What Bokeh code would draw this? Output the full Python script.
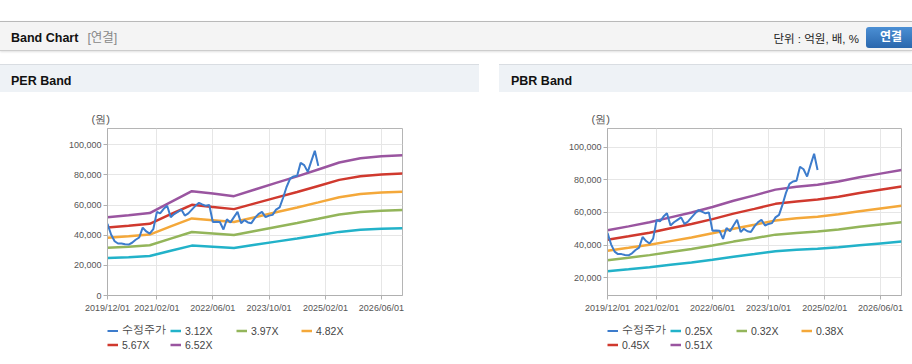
import pandas as pd
from bokeh.plotting import figure
from bokeh.models import (Range1d, FixedTicker, NumeralTickFormatter, DatetimeTickFormatter,
                          Legend, LegendItem, Div, Spacer)
from bokeh.layouts import column, row
from bokeh.embed import file_html
from bokeh.resources import INLINE

# ---------------- data ----------------
price_dates = pd.date_range("2019-12-01", periods=61, freq="MS")
price = [47500, 40500, 36000, 34500, 34500, 34000, 33800, 35000, 37000, 38500,
         45000, 42500, 41000, 44000, 55500, 54500, 57500, 59500, 52000, 54000,
         55500, 57000, 53000, 54500, 57000, 59500, 61500, 60500, 59500, 60000,
         48800, 49000, 48800, 43800, 50500, 48500, 52000, 55500, 48000, 50000,
         48500, 48000, 51500, 54000, 55500, 52000, 53000, 53500, 57000, 58500,
         65000, 72000, 77500, 79000, 79500, 88000, 86500, 82000, 89000, 96000,
         86000]

band_dates = pd.to_datetime([
    "2019-12-01", "2020-06-01", "2020-12-01", "2021-06-01", "2021-12-01",
    "2022-06-01", "2022-12-01", "2023-06-01", "2023-12-01", "2024-06-01",
    "2024-12-01", "2025-06-01", "2025-12-01", "2026-06-01", "2026-12-01"])

per_eps = [7960, 8160, 8390, 9509, 10613, 10368, 10107, 10782, 11457, 12117,
           12822, 13528, 13957, 14172, 14279]
per_multiples = [3.12, 3.97, 4.82, 5.67, 6.52]
per_labels = ["3.12X", "3.97X", "4.82X", "5.67X", "6.52X"]

pbr_bps = [96270, 100980, 105880, 111760, 117650, 124310, 131760, 138240, 145100,
           148430, 150980, 154900, 160000, 164310, 168630]
pbr_multiples = [0.25, 0.32, 0.38, 0.45, 0.51]
pbr_labels = ["0.25X", "0.32X", "0.38X", "0.45X", "0.51X"]

price_label = "수정주가"
x_tick_dates = ["2019-12-01", "2021-02-01", "2022-06-01", "2023-10-01", "2025-02-01", "2026-06-01"]
x_start, x_end = "2019-12-01", "2026-12-01"

per_y_ticks = [0, 20000, 40000, 60000, 80000, 100000]
pbr_y_ticks = [20000, 40000, 60000, 80000, 100000]

price_color = "#3d7ccc"
band_colors = ["#22b2c9", "#93b55a", "#f4a83a", "#d0392e", "#9a55a0"]

FONT = "Liberation Sans"
LEG_H = 44
legend_columns = [[0, 4], [1, 5], [2], [3]]
legend_col_x = [0, 63, 129, 194]


def draw_series(p, base, multiples):
    rends = []
    for m, col in zip(multiples, band_colors):
        vals = [b * m for b in base]
        rends.append(p.line(x=list(band_dates), y=vals, line_color=col, line_width=2.5))
    rp = p.line(x=list(price_dates), y=price, line_color=price_color, line_width=2)
    return [rp] + rends


def make_chart(width, bl, br, y0, y1, y_ticks, base, multiples):
    p = figure(width=width, height=225,
               x_range=Range1d(pd.Timestamp(x_start), pd.Timestamp(x_end)),
               y_range=Range1d(y0, y1), output_backend="svg", toolbar_location=None,
               x_axis_type="datetime",
               min_border_left=bl, min_border_right=br, min_border_top=35, min_border_bottom=23,
               background_fill_color="white", border_fill_color="white")
    p.outline_line_color = "#b5b5b5"
    tick_ms = [float(pd.Timestamp(d).value // 10**6) for d in x_tick_dates]
    p.xaxis.ticker = FixedTicker(ticks=tick_ms)
    fmt = "%Y/%m/%d"
    p.xaxis.formatter = DatetimeTickFormatter(
        microseconds=fmt, milliseconds=fmt, seconds=fmt, minsec=fmt, minutes=fmt,
        hourmin=fmt, hours=fmt, days=fmt, months=fmt, years=fmt)
    p.yaxis.ticker = FixedTicker(ticks=y_ticks)
    p.yaxis.formatter = NumeralTickFormatter(format="0,0")
    for ax in (p.xaxis[0], p.yaxis[0]):
        ax.axis_line_color = "#b0b0b0"
        ax.major_tick_line_color = "#b0b0b0"
        ax.minor_tick_line_color = None
        ax.major_tick_out = 4
        ax.major_tick_in = 0
        ax.major_label_text_font = FONT
        ax.major_label_text_font_size = "9px"
        ax.major_label_text_color = "#555555"
    p.yaxis.major_label_standoff = 2
    p.xaxis.major_label_standoff = 3
    p.xgrid.grid_line_color = "#e6e6e6"
    p.ygrid.grid_line_color = "#e6e6e6"

    p.title.text = "(원)"
    p.title.text_font = FONT
    p.title.text_font_size = "11px"
    p.title.text_font_style = "normal"
    p.title.text_color = "#555555"
    p.title.align = "left"
    p.title.offset = -16
    p.title.standoff = 7

    draw_series(p, base, multiples)
    return p


def make_legend_fig(width, bl, br, base, multiples, labels):
    # legend strip under the chart; its view range keeps the series out of sight
    lf = figure(width=width, height=LEG_H,
                x_range=Range1d(pd.Timestamp(x_start), pd.Timestamp(x_end)),
                y_range=Range1d(0, 1), x_axis_type="datetime",
                output_backend="svg", toolbar_location=None, title=None,
                x_axis_location=None, y_axis_location=None,
                min_border_left=bl, min_border_right=br, min_border_top=0, min_border_bottom=0,
                background_fill_color="white", border_fill_color="white")
    lf.outline_line_color = None
    lf.xgrid.visible = False
    lf.ygrid.visible = False
    rends = draw_series(lf, base, multiples)
    names = [price_label] + list(labels)
    for idxs, x in zip(legend_columns, legend_col_x):
        n = len(idxs)
        h = n * 13 + (n - 1) * 1
        vy = LEG_H - 6 - h
        items = [LegendItem(label=names[i], renderers=[rends[i]]) for i in idxs]
        lf.add_layout(Legend(items=items, orientation="vertical", location=(x, vy),
                             label_text_font=FONT, label_text_font_size="10.5px",
                             label_text_color="#444444",
                             glyph_width=11, glyph_height=13, label_height=13, label_standoff=4,
                             spacing=1, padding=0, margin=0,
                             border_line_alpha=0, background_fill_alpha=0))
    return lf


per = make_chart(479, 107, 77, 0, 110800, per_y_ticks, per_eps, per_multiples)
pbr = make_chart(413, 108, 11, 9150, 111450, pbr_y_ticks, pbr_bps, pbr_multiples)
per_leg = make_legend_fig(479, 107, 77, per_eps, per_multiples, per_labels)
pbr_leg = make_legend_fig(413, 108, 11, pbr_bps, pbr_multiples, pbr_labels)

ff = "font-family:'Liberation Sans','Noto Sans CJK KR',sans-serif;"
header_html = f'''
<div style="position:relative;width:912px;height:64px;{ff}">
 <div style="position:absolute;left:0;top:21px;width:912px;height:30px;background:#f4f4f4;border-top:1px solid #b9b9b9;border-bottom:1px solid #cdcdcd;box-shadow:0 1px 2px rgba(0,0,0,0.12);"></div>
 <div style="position:absolute;left:11px;top:30px;font-size:12.5px;font-weight:bold;color:#111;white-space:nowrap;">Band Chart<span style="font-weight:normal;color:#888;margin-left:9px;">[연결]</span></div>
 <div style="position:absolute;right:53px;top:31px;font-size:11.5px;color:#222;white-space:nowrap;">단위 : 억원, 배, %</div>
 <div style="position:absolute;left:866px;top:27px;width:46px;height:21px;border-radius:3px 0 0 3px;background:linear-gradient(#4b8fd4,#2a67ad);color:#fff;font-weight:bold;font-size:12px;line-height:21px;padding-left:14px;box-sizing:border-box;white-space:nowrap;">연결</div>
</div>'''


def title_html(text, w, left):
    return f'''
<div style="position:relative;width:{w}px;height:28px;border-top:1px solid #d9dde2;background:#eef2f6;{ff}">
 <div style="position:absolute;left:{left}px;top:8px;font-size:12.5px;font-weight:bold;color:#111;white-space:nowrap;">{text}</div>
</div>'''


def bottom_html(w):
    return f'<div style="width:{w}px;height:1px;border-bottom:1px solid #d3d3d3;"></div>'


header = Div(text=header_html, width=912, height=64, margin=0)
per_title = Div(text=title_html("PER Band", 479, 11), width=479, height=29, margin=0)
pbr_title = Div(text=title_html("PBR Band", 413, 12), width=413, height=29, margin=0)
per_bottom = Div(text=bottom_html(479), width=479, height=2, margin=0)
pbr_bottom = Div(text=bottom_html(413), width=413, height=2, margin=0)

left = column(per_title, per, per_leg, per_bottom, spacing=0)
right = column(pbr_title, pbr, pbr_leg, pbr_bottom, spacing=0)
layout = column(header, row(left, Spacer(width=20, height=300, margin=0), right, spacing=0), spacing=0)

open("out.html", "w").write(file_html(layout, INLINE))
